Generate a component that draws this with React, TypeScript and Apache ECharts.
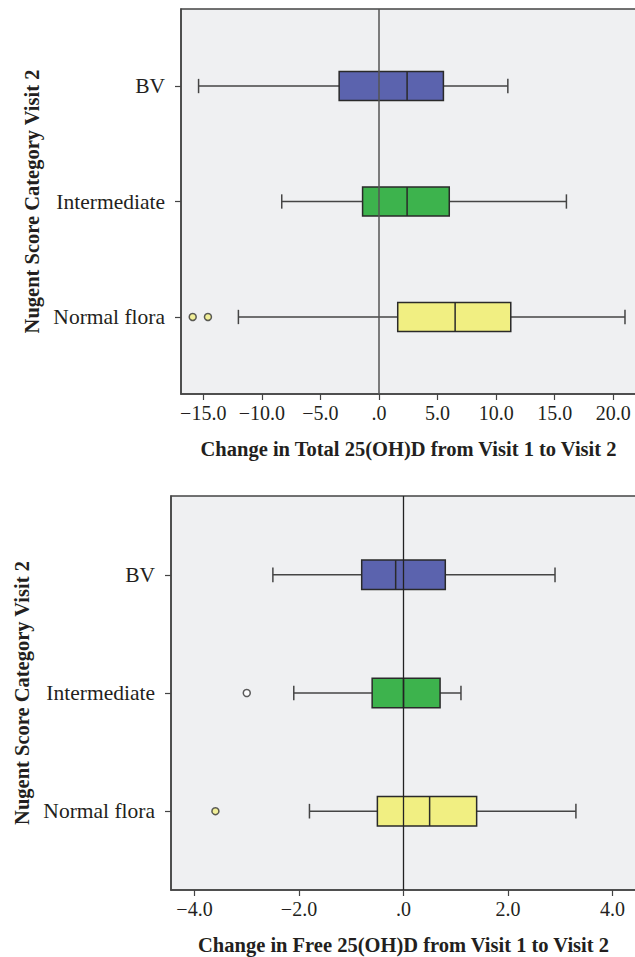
import React, { useEffect, useRef } from "react";
import * as echarts from "echarts";

// ---- data ----
const categories = ["BV", "Intermediate", "Normal flora"];
const categoryIndex = [0, 1, 2];
const boxColors = ["#5b63ae", "#3db34d", "#f1ef82"];

// Change in Total 25(OH)D
const totalMin = [-15.4, -8.3, -12.0];
const totalQ1 = [-3.4, -1.4, 1.6];
const totalMedian = [2.4, 2.4, 6.5];
const totalQ3 = [5.5, 6.0, 11.25];
const totalMax = [11.0, 16.0, 21.0];
const totalOutlierValues = [-15.9, -14.6];
const totalOutlierCats = [2, 2];
const totalOutlierColors = ["#f1ef82", "#f1ef82"];
const totalTicks = [-15, -10, -5, 0, 5, 10, 15, 20];

// Change in Free 25(OH)D
const freeMin = [-2.5, -2.1, -1.8];
const freeQ1 = [-0.8, -0.6, -0.5];
const freeMedian = [-0.15, 0.0, 0.5];
const freeQ3 = [0.8, 0.7, 1.4];
const freeMax = [2.9, 1.1, 3.3];
const freeOutlierValues = [-3.0, -3.6];
const freeOutlierCats = [1, 2];
const freeOutlierColors = ["#ffffff", "#f1ef82"];
const freeTicks = [-4, -2, 0, 2, 4];

const FONT = "'Liberation Serif', 'DejaVu Serif', serif";
const TEXT = "#231f20";
const FRAME = "#444";

const fmt = (v: number) => {
  if (Math.abs(v) < 1e-9) return ".0";
  if (v < 0) return "\u2212" + Math.abs(v).toFixed(1);
  return v.toFixed(1);
};

function boxData(mn: number[], q1: number[], md: number[], q3: number[], mx: number[]) {
  return categoryIndex.map((c, i) => [c, mn[i], q1[i], md[i], q3[i], mx[i]]);
}

function renderBox(params: any, api: any) {
  const y = api.value(0);
  const pMin = api.coord([api.value(1), y]);
  const pQ1 = api.coord([api.value(2), y]);
  const pMed = api.coord([api.value(3), y]);
  const pQ3 = api.coord([api.value(4), y]);
  const pMax = api.coord([api.value(5), y]);
  const band = Math.abs(api.size([0, 1])[1]);
  const h = band * 0.125;
  const cap = band * 0.062;
  const fill = boxColors[params.dataIndex];
  const wStyle = { stroke: "#454545", lineWidth: 1.5 };
  const bStyle = { stroke: "#2a2a2a", lineWidth: 1.5 };
  return {
    type: "group",
    children: [
      { type: "line", shape: { x1: pMin[0], y1: pMin[1], x2: pQ1[0], y2: pQ1[1] }, style: wStyle },
      { type: "line", shape: { x1: pQ3[0], y1: pQ3[1], x2: pMax[0], y2: pMax[1] }, style: wStyle },
      { type: "line", shape: { x1: pMin[0], y1: pMin[1] - cap, x2: pMin[0], y2: pMin[1] + cap }, style: wStyle },
      { type: "line", shape: { x1: pMax[0], y1: pMax[1] - cap, x2: pMax[0], y2: pMax[1] + cap }, style: wStyle },
      {
        type: "rect",
        shape: { x: pQ1[0], y: pQ1[1] - h, width: pQ3[0] - pQ1[0], height: 2 * h },
        style: { fill, ...bStyle },
      },
      { type: "line", shape: { x1: pMed[0], y1: pMed[1] - h, x2: pMed[0], y2: pMed[1] + h }, style: bStyle },
    ],
  };
}

function xAxisCfg(gridIndex: number, min: number, max: number, ticks: number[], name: string) {
  return {
    type: "value",
    gridIndex,
    position: "bottom",
    min,
    max,
    name,
    nameLocation: "middle",
    nameGap: 44,
    nameTextStyle: { fontFamily: FONT, fontSize: 20.5, fontWeight: "bold", color: TEXT },
    axisLine: { show: true, onZero: false, lineStyle: { color: FRAME, width: 1.5 } },
    axisTick: { show: true, length: 6, lineStyle: { color: FRAME, width: 1.2 }, customValues: ticks },
    axisLabel: {
      show: true,
      margin: 9,
      customValues: ticks,
      formatter: (v: number) => fmt(v),
      fontFamily: FONT,
      fontSize: 20,
      color: TEXT,
    },
    splitLine: { show: false },
  };
}

function yAxisCfg(gridIndex: number) {
  return {
    type: "value",
    gridIndex,
    position: "left",
    inverse: true,
    min: -0.667,
    max: 2.667,
    name: "Nugent Score Category Visit 2",
    nameLocation: "middle",
    nameGap: 136,
    nameRotate: 90,
    nameTextStyle: { fontFamily: FONT, fontSize: 20.5, fontWeight: "bold", color: TEXT },
    axisLine: { show: true, onZero: false, lineStyle: { color: FRAME, width: 1.5 } },
    axisTick: { show: true, length: 6, lineStyle: { color: FRAME, width: 1.2 }, customValues: categoryIndex },
    axisLabel: {
      show: true,
      margin: 16,
      customValues: categoryIndex,
      formatter: (v: number) => categories[Math.round(v)] ?? "",
      fontFamily: FONT,
      fontSize: 21.5,
      color: TEXT,
    },
    splitLine: { show: false },
  };
}

function outliers(vals: number[], cats: number[], colors: string[]) {
  return vals.map((v, i) => ({ value: [v, cats[i]], itemStyle: { color: colors[i] } }));
}

export default function App() {
  const ref = useRef<HTMLDivElement>(null);
  useEffect(() => {
    if (!ref.current) return;
    const chart = echarts.init(ref.current, null, { renderer: "svg" });
    chart.setOption({
      animation: false,
      backgroundColor: "#ffffff",
      grid: [
        { left: 181, top: 9, width: 455, height: 385, show: true, backgroundColor: "#eff0f2", borderColor: FRAME, borderWidth: 1.5 },
        { left: 171, top: 496, width: 465, height: 394, show: true, backgroundColor: "#eff0f2", borderColor: FRAME, borderWidth: 1.5 },
      ],
      xAxis: [
        xAxisCfg(0, -16.9, 21.94, totalTicks, "Change in Total 25(OH)D from Visit 1 to Visit 2"),
        xAxisCfg(1, -4.45, 4.45, freeTicks, "Change in Free 25(OH)D from Visit 1 to Visit 2"),
      ],
      yAxis: [yAxisCfg(0), yAxisCfg(1)],
      series: [
        {
          type: "custom",
          xAxisIndex: 0,
          yAxisIndex: 0,
          renderItem: renderBox,
          encode: { x: [1, 2, 3, 4, 5], y: 0 },
          data: boxData(totalMin, totalQ1, totalMedian, totalQ3, totalMax),
          z: 2,
        },
        {
          type: "scatter",
          xAxisIndex: 0,
          yAxisIndex: 0,
          symbol: "circle",
          symbolSize: 7,
          itemStyle: { borderColor: "#333", borderWidth: 1.5 },
          data: outliers(totalOutlierValues, totalOutlierCats, totalOutlierColors),
          z: 3,
          markLine: {
            silent: true,
            symbol: "none",
            label: { show: false },
            lineStyle: { color: "#555", width: 1.5, type: "solid" },
            data: [{ xAxis: 0 }],
            z: 5,
          },
        },
        {
          type: "custom",
          xAxisIndex: 1,
          yAxisIndex: 1,
          renderItem: renderBox,
          encode: { x: [1, 2, 3, 4, 5], y: 0 },
          data: boxData(freeMin, freeQ1, freeMedian, freeQ3, freeMax),
          z: 2,
        },
        {
          type: "scatter",
          xAxisIndex: 1,
          yAxisIndex: 1,
          symbol: "circle",
          symbolSize: 7,
          itemStyle: { borderColor: "#333", borderWidth: 1.5 },
          data: outliers(freeOutlierValues, freeOutlierCats, freeOutlierColors),
          z: 3,
          markLine: {
            silent: true,
            symbol: "none",
            label: { show: false },
            lineStyle: { color: "#222", width: 1.3, type: "solid" },
            data: [{ xAxis: 0 }],
            z: 5,
          },
        },
      ],
    });
    return () => chart.dispose();
  }, []);
  return (
    <div style={{ position: "absolute", left: 0, top: 0, width: 635, height: 957, overflow: "hidden", background: "#fff" }}>
      <div ref={ref} style={{ width: 640, height: 957 }} />
    </div>
  );
}
